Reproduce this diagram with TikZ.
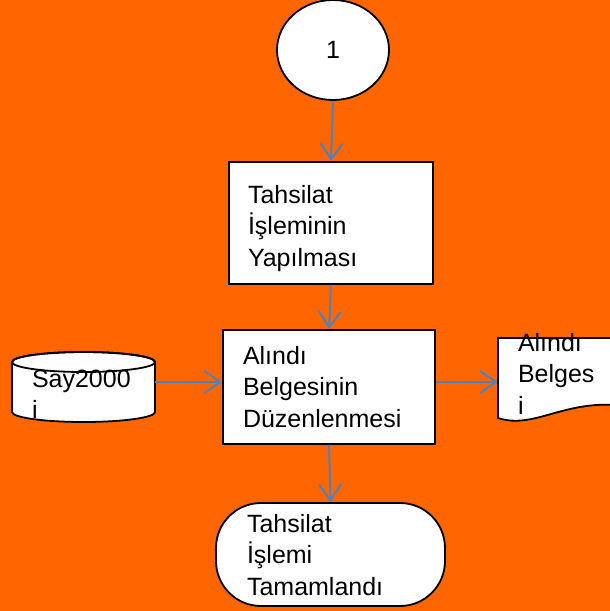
\documentclass[tikz,border=0pt]{standalone}
\usepackage{fontspec}
\setmainfont{Liberation Sans}
\usetikzlibrary{shapes.geometric,arrows.meta}
\definecolor{zemin}{RGB}{255,102,0}
\definecolor{okmavi}{RGB}{79,129,189}

\begin{document}
\begin{tikzpicture}[x=1pt, y=1pt,
  every node/.style={font=\fontsize{25}{31.5}\selectfont},
  kutu/.style={draw, line width=1.8pt, fill=white, rectangle, align=left, inner ysep=0pt, text height=18pt},
  veri/.style={align=left, inner ysep=0pt, inner xsep=20pt, text height=18pt},
  akis/.style={okmavi, line width=2pt, -{Straight Barb[length=16pt, width=22pt]}}]

  % Background
  \fill[zemin] (0,0) rectangle (610,-611);
  \useasboundingbox (0,0) rectangle (610,-611);
  \clip (0,0) rectangle (610,-611);

  % Connector circle and process steps
  \node[draw, ellipse, fill=white, line width=1.8pt, minimum width=112pt, minimum height=100pt, inner sep=0pt] (bir) at (333,-50) {1};
  \node[kutu, text width=166pt, inner xsep=19pt, minimum height=122pt, text depth=58pt] (islem) at (331,-223) {Tahsilat\\İşleminin\\Yapılması};
  \node[kutu, text width=172pt, inner xsep=20pt, minimum height=114pt, text depth=64pt] (duzen) at (329,-387) {Alındı\\Belgesinin\\Düzenlenmesi};
  \node[kutu, rounded corners=45pt, text width=167pt, inner xsep=31pt, minimum height=103pt, text depth=63pt] (son) at (330.5,-554.5) {Tahsilat\\İşlemi\\Tamamlandı};

  % Stored data (cylinder)
  \filldraw[fill=white, line width=1.8pt] (12,-362) -- (12,-412) arc[start angle=180, end angle=360, x radius=71.5pt, y radius=10pt] -- (155,-362) arc[start angle=0, end angle=180, x radius=71.5pt, y radius=10pt] -- cycle;
  \draw[line width=1.8pt] (83.5,-362) ellipse[x radius=71.5pt, y radius=10pt];
  \node[veri, text width=103pt, text depth=18pt] (say) at (83.5,-387) {Say2000\\i};

  % Output document
  \filldraw[fill=white, line width=1.8pt] (625,-338) -- (498,-338) -- (498,-418) .. controls (535,-430) and (565,-398) .. (625,-406);
  \node[veri, text width=80pt, text depth=72pt] (belge) at (558,-378) {Alındı\\Belges\\i};

  % Flow
  \draw[akis] (bir.south) -- (islem.north);
  \draw[akis] (islem.south) -- (duzen.north);
  \draw[akis] (duzen.south) -- (son.north);
  \draw[akis] ([yshift=5pt]say.east) -- ([yshift=5pt]duzen.west);
  \draw[akis] ([yshift=5pt]duzen.east) -- ([yshift=-4pt]belge.west);
\end{tikzpicture}
\end{document}
